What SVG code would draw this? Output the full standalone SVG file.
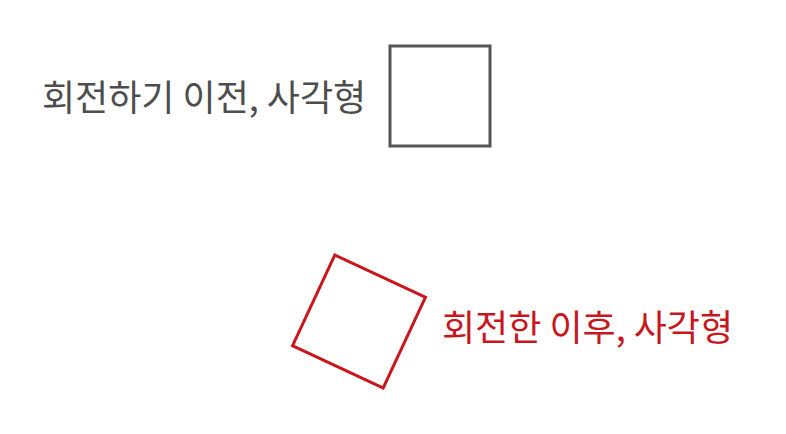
<svg xmlns="http://www.w3.org/2000/svg" width="786" height="434" viewBox="0 0 786 434">
<style>
.lbl{font-family:"Noto Sans CJK KR","Noto Sans",sans-serif;font-size:36px}
.before{fill:#4d4d4d}
.after{fill:#c8161d}
.sq{fill:none;stroke-width:3}
</style>
<rect width="786" height="434" fill="#ffffff"/>
<g id="before-square">
<text class="lbl before" x="42" y="111">회전하기 이전, 사각형</text>
<rect class="sq" x="390" y="46" width="100" height="100" stroke="#555555"/>
</g>
<g id="after-square">
<rect class="sq" x="309" y="271.5" width="100" height="100" stroke="#c8161d" transform="rotate(25 359 321.5)"/>
<text class="lbl after" x="442" y="341">회전한 이후, 사각형</text>
</g>
<g id="connectors"></g>
</svg>
